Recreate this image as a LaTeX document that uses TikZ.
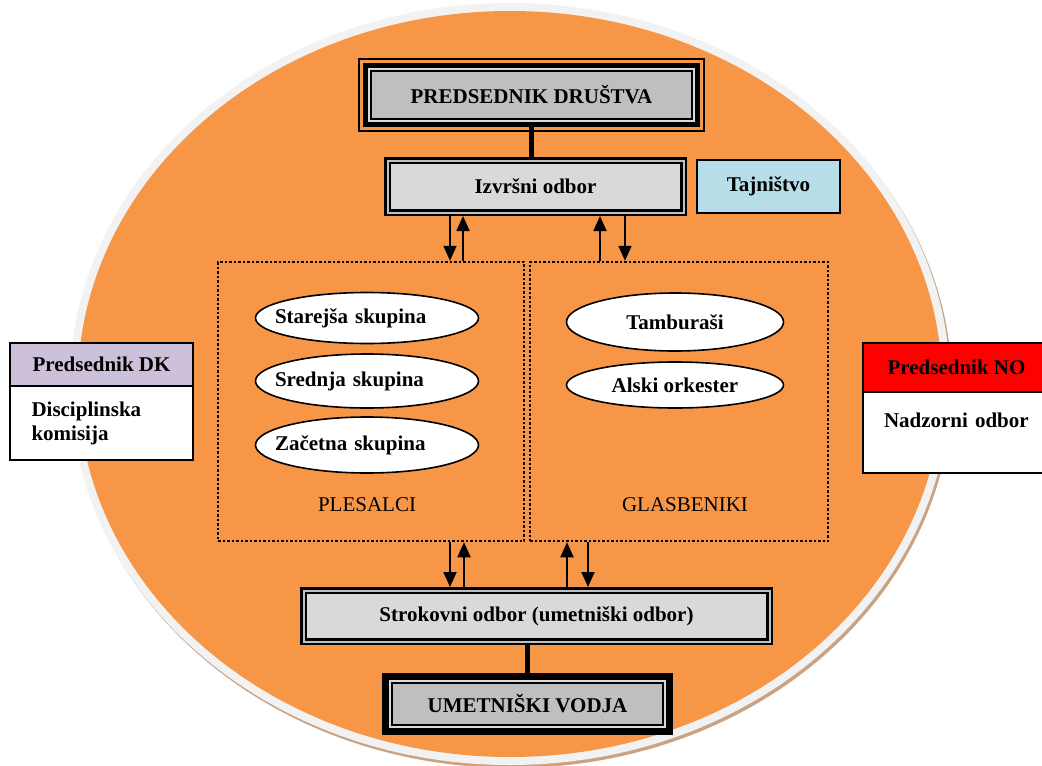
\documentclass[tikz,border=0pt]{standalone}
\usepackage{fontspec}
\setmainfont{Liberation Serif}
\usetikzlibrary{positioning,shapes.geometric,arrows.meta}
\definecolor{orng}{HTML}{F79646}
\definecolor{rim}{HTML}{F2F2F2}
\definecolor{rimshadow}{HTML}{C9A384}
\definecolor{boxgray}{HTML}{BFBFBF}
\definecolor{panelgray}{HTML}{D9D9D9}
\definecolor{tajblue}{HTML}{B7DDE8}
\definecolor{dklila}{HTML}{CCC0DA}

\begin{document}
\begin{tikzpicture}[x=1pt, y=-1pt, font=\fontsize{21}{24}\selectfont,
    head/.style = {draw, line width=5pt, fill=boxgray, outer sep=0pt, font=\fontsize{21}{24}\selectfont\bfseries},
    board/.style = {draw, line width=2.5pt, double=boxgray, double distance=2pt, fill=panelgray, outer sep=3.5pt, minimum width=296pt, minimum height=52pt, font=\fontsize{21}{24}\selectfont\bfseries},
    section/.style = {draw, line width=2.5pt, dash pattern=on 2.5pt off 2pt, minimum width=306pt, minimum height=279pt, outer sep=1.25pt},
    group/.style = {ellipse, draw, line width=1.6pt, fill=white, inner sep=0pt, minimum width=223pt, minimum height=54pt, font=\fontsize{21}{24}\selectfont\bfseries},
    leftgroup/.style = {group, text width=184pt, align=left, inner xsep=-20pt},
    side/.style = {draw, line width=2pt, inner sep=0pt, outer sep=0pt, font=\fontsize{21}{24}\selectfont\bfseries},
    arrow/.style = {-{Triangle[width=13pt,length=15pt]}, line width=1.8pt},
    link/.style = {line width=5pt}]
    \useasboundingbox (0,0) rectangle (1042,766);

    % background oval
    \fill[rimshadow] (512,387) ellipse [x radius=440pt, y radius=381pt];
    \fill[rim] (510,384) ellipse [x radius=440pt, y radius=381pt];
    \fill[orng] (510,384) ellipse [x radius=432pt, y radius=373pt];

    \node[head, minimum width=332pt, minimum height=59pt] (1) at (531.5,95) {PREDSEDNIK DRUŠTVA};
    \draw[line width=2pt] ([xshift=-6.5pt,yshift=6.5pt]1.north west) rectangle ([xshift=6.5pt,yshift=-6.5pt]1.south east);
    \draw[line width=2pt, gray!30] ([xshift=3.5pt,yshift=-3.5pt]1.north west) rectangle ([xshift=-3.5pt,yshift=3.5pt]1.south east);
    \draw[line width=2pt] ([xshift=5.5pt,yshift=-5.5pt]1.north west) rectangle ([xshift=-5.5pt,yshift=5.5pt]1.south east);

    \node[board] (2) at (535.5,186.5) {Izvršni odbor};
    \node[side, fill=tajblue, minimum width=143pt, minimum height=53pt] (3) at (768.5,186.5) {Tajništvo};

    \node[section] (4) at (371,401.5) {};
    \node[section, minimum width=298pt] (5) at (679,401.5) {};
    \node (6) at (367,505) {PLESALCI};
    \node (7) at (685,505) {GLASBENIKI};

    \node[leftgroup, minimum height=51pt] (8) at (367,318) {Starejša skupina};
    \node[leftgroup] (9) at (367,381) {Srednja skupina};
    \node[leftgroup, minimum height=56pt] (10) at (367,445) {Začetna skupina};
    \node[group, minimum width=217pt, minimum height=58pt] (11) at (675,322) {Tamburaši};
    \node[group, minimum width=217pt, minimum height=46pt] (12) at (675,385) {Alski orkester};

    \node[board, minimum width=466pt, minimum height=51pt] (13) at (536.5,616) {Strokovni odbor (umetniški odbor)};

    \node[head, line width=7pt, minimum width=284pt, minimum height=55pt] (14) at (527.5,704) {UMETNIŠKI VODJA};
    \draw[line width=2pt, gray!30] ([xshift=4.5pt,yshift=-4.5pt]14.north west) rectangle ([xshift=-4.5pt,yshift=4.5pt]14.south east);
    \draw[line width=2pt] ([xshift=6.5pt,yshift=-6.5pt]14.north west) rectangle ([xshift=-6.5pt,yshift=6.5pt]14.south east);

    \node[side, fill=dklila, minimum width=183pt, minimum height=43pt] (15) at (101.5,364.5) {Predsednik DK};
    \node[side, fill=white, below=0pt of 15, minimum width=183pt, minimum height=74pt, text width=140pt, align=left] (16) {Disciplinska\\komisija};

    \node[side, fill=red, minimum width=187pt, minimum height=49pt] (17) at (956.5,367.5) {Predsednik NO};
    \node[side, fill=white, below=0pt of 17, minimum width=187pt, minimum height=81pt, text width=145pt, align=left] (18) {Nadzorni odbor\\\mbox{}};

    \draw[link] (1.south) -- (1.south |- 2.north);
    \draw[link] (13.south -| 14.north) -- (14.north);

    \coordinate (a) at (450,0);
    \coordinate (b) at (463,0);
    \coordinate (c) at (600,0);
    \coordinate (d) at (625,0);
    \coordinate (f) at (464,0);
    \coordinate (g) at (567,0);
    \coordinate (h) at (588,0);
    \draw[arrow] (2.south -| a) -- (4.north -| a);
    \draw[arrow] (4.north -| b) -- (2.south -| b);
    \draw[arrow] (5.north -| c) -- (2.south -| c);
    \draw[arrow] (2.south -| d) -- (5.north -| d);
    \draw[arrow] (4.south -| a) -- (13.north -| a);
    \draw[arrow] (13.north -| f) -- (4.south -| f);
    \draw[arrow] (13.north -| g) -- (5.south -| g);
    \draw[arrow] (5.south -| h) -- (13.north -| h);
\end{tikzpicture}
\end{document}
